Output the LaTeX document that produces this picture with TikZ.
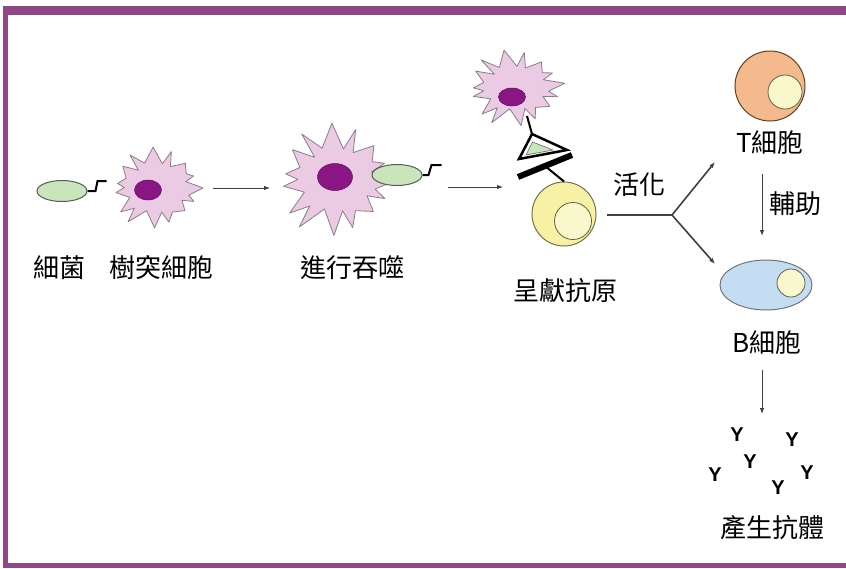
\documentclass[tikz,border=0pt]{standalone}
\usepackage{fontspec}
\newfontfamily\cjkfont{Noto Sans CJK TC}
\setsansfont{Liberation Sans}
\usetikzlibrary{arrows.meta,shapes.geometric}

\definecolor{rim}{HTML}{8F4785}
\definecolor{dcpink}{HTML}{EBCBE3}
\definecolor{dcline}{HTML}{8C7B8A}
\definecolor{nucleus}{HTML}{8A1684}
\definecolor{germ}{HTML}{C8E5BC}
\definecolor{tpeach}{HTML}{F4B98C}
\definecolor{bblue}{HTML}{C5DDF3}
\definecolor{yolk}{HTML}{F7F1A6}
\definecolor{pale}{HTML}{F9F7CC}

\tikzset{
  cjk text/.style={font=\cjkfont\fontsize{26}{26}\selectfont, inner sep=0pt},
  flow/.style={draw=black!75, line width=1pt, -{Latex[length=6pt,width=4.5pt]}},
  dc body/.style={fill=dcpink, draw=dcline, line width=0.8pt, line join=round},
  nucleus/.style={ellipse, fill=nucleus, draw=nucleus!70!black, line width=0.5pt, inner sep=0pt},
  bacterium/.style={ellipse, fill=germ, draw=black!65, line width=1pt, inner sep=0pt,
                    minimum width=50pt, minimum height=21pt},
  flagellum/.style={draw=black, line width=2pt},
  core/.style={circle, fill=pale, draw=black!50!yellow!60!black, line width=0.8pt, inner sep=0pt},
  antibody/.style={font=\sffamily\bfseries\fontsize{20}{20}\selectfont, inner sep=0pt},
  % spiky dendritic cell body: #1 outer radius, #2 inner radius
  pics/dendrite/.style 2 args={code={
    \draw[dc body] plot[samples at={0,...,29}, variable=\k]
      ({\k*12+4*sin(\k*83)}:{mod(\k,2)==0 ? #1*(1+0.14*sin(\k*151)) : #2*(1+0.08*cos(\k*67))}) -- cycle;
  }},
}

\begin{document}
\begin{tikzpicture}[x=1pt, y=-1pt]
  \useasboundingbox (0,0) rectangle (846,568);
  % border
  \fill[rim] (3,6) rectangle (846,15);
  \fill[rim] (3,6) rectangle (8,568);
  \fill[rim] (3,563) rectangle (846,568);

  % bacterium meets dendritic cell
  \pic[xscale=1.28] at (157,188) {dendrite={36}{25}};
  \node[nucleus, minimum width=27pt, minimum height=20pt] (n1) at (148,190) {};
  \node[bacterium] (b1) at (62,191) {};
  \draw[flagellum] (b1.east) -- ++(8,0) -- ++(2,-10) -- ++(9,0);
  \node[cjk text] (germ lbl) at (59,268) {細菌};
  \node[cjk text] (dc lbl) at (161,268) {樹突細胞};

  \coordinate (a1s) at (213,188);  \coordinate (a1e) at (270,188);
  \draw[flow] (a1s) -- (a1e);

  % phagocytosis
  \pic[xscale=1.2] at (337,180) {dendrite={50}{32}};
  \node[nucleus, minimum width=35pt, minimum height=27pt] (n2) at (335,177) {};
  \node[bacterium] (b2) at (397,175) {};
  \draw[flagellum] (b2.east) -- ++(6,0) -- ++(3,-10) -- ++(10,0);
  \node[cjk text] (eat lbl) at (352,268) {進行吞噬};

  \coordinate (a2s) at (448,187);  \coordinate (a2e) at (503,187);
  \draw[flow] (a2s) -- (a2e);

  % antigen presentation
  \pic[xscale=1.45, rotate=8] at (516,88) {dendrite={34}{22}};
  \node[nucleus, minimum width=27pt, minimum height=18pt] (n3) at (512,97) {};
  \coordinate (t1) at (532,134);  \coordinate (t2) at (519,159);  \coordinate (t3) at (567,150);
  \coordinate (stalk) at (527,116);
  \draw[line width=2pt] (stalk) -- (t1);
  \draw[line width=2.5pt, fill=white, line join=miter] (t1) -- (t2) -- (t3) -- cycle;
  \fill[germ, draw=black!60, line width=0.6pt] (532.5,142) -- (526,155) -- (553,150) -- cycle;
  \coordinate (bar1) at (518,177);  \coordinate (bar2) at (572,155);
  \draw[line width=6pt] (bar1) -- (bar2);
  \node[circle, fill=yolk, draw=black!45!yellow!70!black, line width=1pt,
        minimum size=64pt, inner sep=0pt] (apc) at (564,214) {};
  \node[core, minimum size=37pt] (apc core) at (573,221) {};
  \draw[line width=2pt] (545,166) -- (apc.north);
  \node[cjk text] (show lbl) at (565,291) {呈獻抗原};

  % activation branches
  \coordinate (fork s) at (607,215);  \coordinate (fork) at (672,215);
  \coordinate (to t) at (715,162);    \coordinate (to b) at (715,264);
  \draw[black!75, line width=2.5pt] (fork s) -- (fork);
  \draw[flow, line width=1.6pt] (fork) -- (to t);
  \draw[flow, line width=1.6pt] (fork) -- (to b);
  \node[cjk text] (act lbl) at (639,185) {活化};

  % T cell and B cell
  \node[circle, fill=tpeach, draw=black!50!brown, line width=1pt,
        minimum size=70pt, inner sep=0pt] (tc) at (770,86) {};
  \node[core, minimum size=34pt] (tc core) at (785,92) {};
  \node[cjk text] (tc lbl) at (770,143) {T細胞};

  \coordinate (h1) at (762,174);  \coordinate (h2) at (762,236);
  \draw[flow] (h1) -- (h2);
  \node[cjk text] (help lbl) at (795,204) {輔助};

  \node[ellipse, fill=bblue, draw=black!55, line width=1pt,
        minimum width=92pt, minimum height=50pt, inner sep=0pt] (bc) at (766,285) {};
  \node[core, minimum size=28pt] (bc core) at (791,283) {};
  \node[cjk text] (bc lbl) at (767,343) {B細胞};

  \coordinate (p1) at (762,370);  \coordinate (p2) at (762,414);
  \draw[flow] (p1) -- (p2);

  % antibodies
  \foreach \x/\y [count=\i] in {737/435, 792/440, 750/462, 715/475, 807/473, 778/488}
    \node[antibody] (ab\i) at (\x,\y) {Y};
  \node[cjk text] (ab lbl) at (772,528) {產生抗體};
\end{tikzpicture}
\end{document}
